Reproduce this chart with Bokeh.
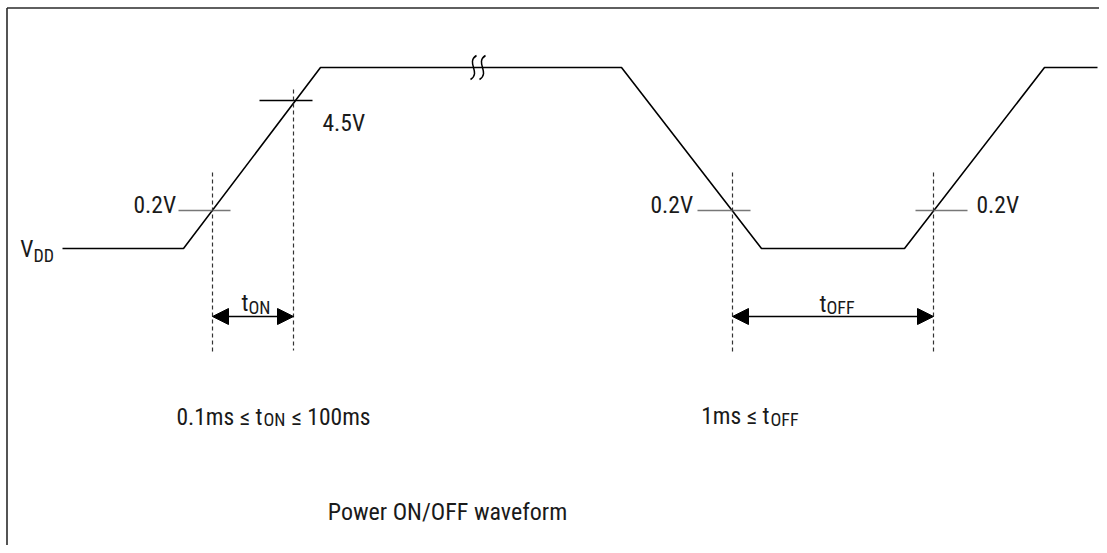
from bokeh.plotting import figure
from bokeh.models import Range1d, ColumnDataSource, Arrow, NormalHead
from bokeh.core.properties import value
from bokeh.embed import file_html
from bokeh.resources import INLINE

# ---------------- data (diagram coordinates, y grows downward) ----------------
# supply waveform corner points
wave_x = [62, 183, 320, 621, 761, 904, 1044, 1097]
wave_y = [248, 248, 67, 67, 248, 248, 67, 67]

# threshold marks (4.5V black, 0.2V grey)
th45_x0 = [259]
th45_x1 = [312]
th45_y = [100]
th02_x0 = [178, 697, 915]
th02_x1 = [230, 750, 967]
th02_y = [210, 210, 210]

# dashed timing markers
mark_x = [212, 293, 732, 933]
mark_top = [172, 89, 172, 172]
mark_bot = [352, 350, 352, 352]

# timing arrows (t_ON, t_OFF)
arrow_x0 = [212, 732]
arrow_x1 = [293, 933]
arrow_y = [316, 316]

# break symbol on the high level
break_x = [473, 482]
break_y0 = [55, 55]
break_y1 = [79, 79]

# plain labels
lab_text = ["4.5V", "0.2V", "0.2V", "0.2V"]
lab_x = [322, 133, 650, 976]
lab_y = [122, 204, 204, 204]

# labels with subscripts: main part (right-aligned), subscript, trailing part
sub_main = ["V", "t", "t", "0.1ms \u2264 t", "1ms \u2264 t"]
sub_main_x = [33, 248, 826, 262, 769]
sub_main_y = [248, 302, 303, 416, 415]
sub_sub = ["DD", "ON", "OFF", "ON", "OFF"]
sub_sub_x = [33, 248, 826, 263, 770]
sub_sub_y = [255, 307, 307, 419, 419]
tail_text = ["\u2264 100ms"]
tail_x = [291]
tail_y = [416]

title_text = ["Power ON/OFF waveform"]
title_x = [447]
title_y = [511]

FONT = "'Roboto Condensed', 'DejaVu Sans Condensed', sans-serif"
TXT = "#1a1a1a"

p = figure(width=1099, height=545, output_backend="svg", toolbar_location=None,
           x_range=Range1d(0, 1099), y_range=Range1d(545, 0),
           min_border=0, outline_line_color=None)
p.axis.visible = False
p.grid.visible = False
p.background_fill_color = "white"
p.border_fill_color = "white"

# frame (left and top edges visible)
p.segment(x0=[6.5, 6.5], y0=[7.5, 7.5], x1=[6.5, 1099], y1=[545, 7.5],
          line_color="#2a2a2a", line_width=1.6)

# waveform
p.line(wave_x, wave_y, line_color="black", line_width=1.6)

# break symbol
p.bezier(x0=[x + 3 for x in break_x], y0=break_y0,
         x1=[x - 3 for x in break_x], y1=break_y1,
         cx0=[x - 8 for x in break_x], cy0=[62] * 2,
         cx1=[x + 8 for x in break_x], cy1=[72] * 2,
         line_color="black", line_width=1.5)

# thresholds
p.segment(x0=th45_x0, y0=th45_y, x1=th45_x1, y1=th45_y, line_color="black", line_width=1.3)
p.segment(x0=th02_x0, y0=th02_y, x1=th02_x1, y1=th02_y, line_color="#777777", line_width=1.6)

# dashed markers
p.segment(x0=mark_x, y0=mark_top, x1=mark_x, y1=mark_bot, line_color="#333333",
          line_width=1.2, line_dash="4 3")

# arrows
asrc = ColumnDataSource(dict(x0=arrow_x0, x1=arrow_x1, y=arrow_y))
p.add_layout(Arrow(x_start="x0", y_start="y", x_end="x1", y_end="y", source=asrc,
                   line_color="black", line_width=1.5,
                   start=NormalHead(size=16, fill_color="black", line_color="black"),
                   end=NormalHead(size=16, fill_color="black", line_color="black")))

# texts
def txt(xs, ys, ts, size, align="left"):
    p.text(x=xs, y=ys, text=ts, text_font=value(FONT), text_font_size=value(size),
           text_color=TXT, text_align=align, text_baseline="alphabetic")

txt(lab_x, lab_y, lab_text, "23.5px")
txt(sub_main_x, sub_main_y, sub_main, "23.5px", "right")
txt(sub_sub_x, sub_sub_y, sub_sub, "18px")
txt(tail_x, tail_y, tail_text, "23.5px")
txt(title_x, title_y, title_text, "24px", "center")

open("out.html", "w").write(file_html(p, INLINE))
